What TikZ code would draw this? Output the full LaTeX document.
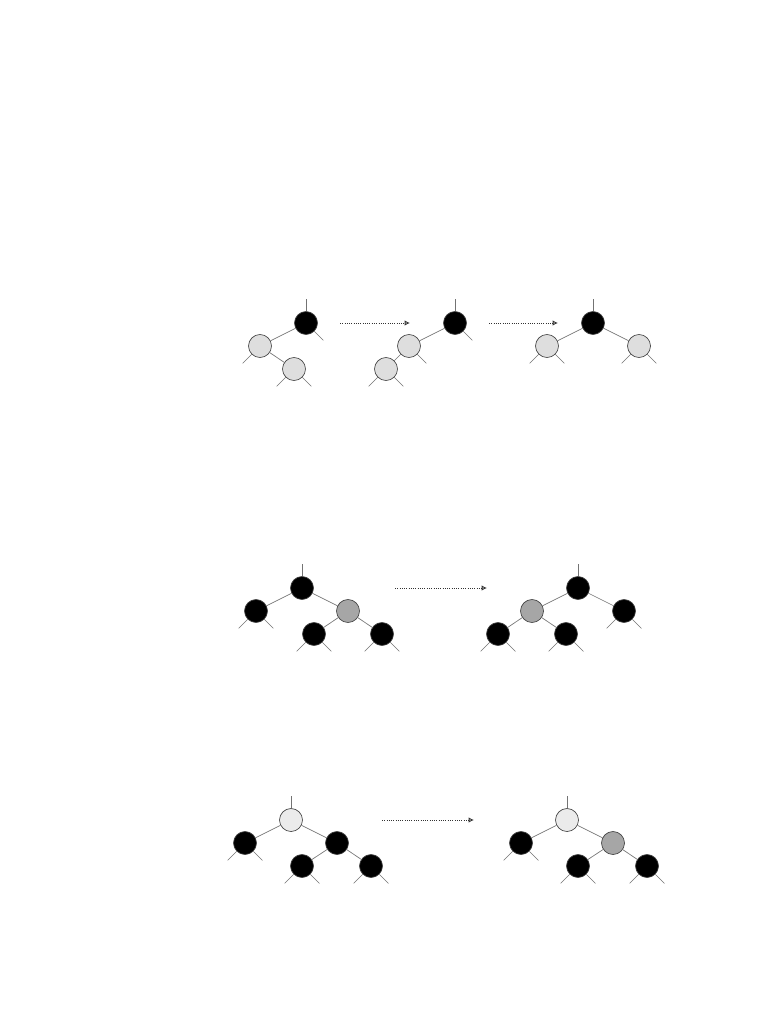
\documentclass[tikz,border=0pt]{standalone}
\usetikzlibrary{arrows.meta}
\begin{document}
\begin{tikzpicture}[x=0.75pt,y=-0.75pt,
  tn/.style={circle,draw=black!75,line width=0.5pt,inner sep=0pt,minimum size=17.25pt},
  blk/.style={tn,fill=black},
  lgr/.style={tn,fill=black!13},
  vlg/.style={tn,fill=black!8},
  mgr/.style={tn,fill=black!35},
  edge/.style={draw=black!55,line width=0.5pt},
  sl/.style={edge,shorten <=0pt},
  arr/.style={draw=black!80,line width=0.7pt,densely dotted,-{Latex[open,length=4pt,width=4pt]}}
]
\useasboundingbox (0,0) rectangle (782,1012);
\newcommand{\stubL}[1]{\draw[edge] (#1.-135) -- ++(-9,9);}
\newcommand{\stubR}[1]{\draw[edge] (#1.-45) -- ++(9,9);}
\newcommand{\stubU}[1]{\draw[edge] (#1.north) -- ++(0,-12);}

% ---------- row 1 ----------
\node[blk] (a1) at (306,323) {};
\node[lgr] (a2) at (260,346) {};
\node[lgr] (a3) at (294,369) {};
\draw[edge] (a1) -- (a2); \draw[edge] (a2) -- (a3);
\stubU{a1} \stubR{a1} \stubL{a2} \stubL{a3} \stubR{a3}

\node[blk] (b1) at (455,323) {};
\node[lgr] (b2) at (409,346) {};
\node[lgr] (b3) at (386,369) {};
\draw[edge] (b1) -- (b2); \draw[edge] (b2) -- (b3);
\stubU{b1} \stubR{b1} \stubR{b2} \stubL{b3} \stubR{b3}

\node[blk] (c1) at (593,323) {};
\node[lgr] (c2) at (547,346) {};
\node[lgr] (c3) at (639,346) {};
\draw[edge] (c1) -- (c2); \draw[edge] (c1) -- (c3);
\stubU{c1} \stubL{c2} \stubR{c2} \stubL{c3} \stubR{c3}

\coordinate (p1) at (340,323); \coordinate (q1) at (410,323);
\coordinate (p2) at (489,323); \coordinate (q2) at (558,323);
\draw[arr] (p1) -- (q1);
\draw[arr] (p2) -- (q2);

% ---------- row 2 ----------
\node[blk] (d1) at (302,588) {};
\node[blk] (d2) at (256,611) {};
\node[mgr] (d3) at (348,611) {};
\node[blk] (d4) at (314,634) {};
\node[blk] (d5) at (382,634) {};
\draw[edge] (d1) -- (d2); \draw[edge] (d1) -- (d3);
\draw[edge] (d3) -- (d4); \draw[edge] (d3) -- (d5);
\stubU{d1} \stubL{d2} \stubR{d2} \stubL{d4} \stubR{d4} \stubL{d5} \stubR{d5}

\node[blk] (e1) at (578,588) {};
\node[mgr] (e2) at (532,611) {};
\node[blk] (e3) at (624,611) {};
\node[blk] (e4) at (498,634) {};
\node[blk] (e5) at (566,634) {};
\draw[edge] (e1) -- (e2); \draw[edge] (e1) -- (e3);
\draw[edge] (e2) -- (e4); \draw[edge] (e2) -- (e5);
\stubU{e1} \stubL{e3} \stubR{e3} \stubL{e4} \stubR{e4} \stubL{e5} \stubR{e5}

\coordinate (p3) at (395,588); \coordinate (q3) at (487,588);
\draw[arr] (p3) -- (q3);

% ---------- row 3 ----------
\node[vlg] (f1) at (291,820) {};
\node[blk] (f2) at (245,843) {};
\node[blk] (f3) at (337,843) {};
\node[blk] (f4) at (302,866) {};
\node[blk] (f5) at (371,866) {};
\draw[edge] (f1) -- (f2); \draw[edge] (f1) -- (f3);
\draw[edge] (f3) -- (f4); \draw[edge] (f3) -- (f5);
\stubU{f1} \stubL{f2} \stubR{f2} \stubL{f4} \stubR{f4} \stubL{f5} \stubR{f5}

\node[vlg] (g1) at (567,820) {};
\node[blk] (g2) at (521,843) {};
\node[mgr] (g3) at (613,843) {};
\node[blk] (g4) at (578,866) {};
\node[blk] (g5) at (647,866) {};
\draw[edge] (g1) -- (g2); \draw[edge] (g1) -- (g3);
\draw[edge] (g3) -- (g4); \draw[edge] (g3) -- (g5);
\stubU{g1} \stubL{g2} \stubR{g2} \stubL{g4} \stubR{g4} \stubL{g5} \stubR{g5}

\coordinate (p4) at (382,820); \coordinate (q4) at (474,820);
\draw[arr] (p4) -- (q4);
\end{tikzpicture}
\end{document}
